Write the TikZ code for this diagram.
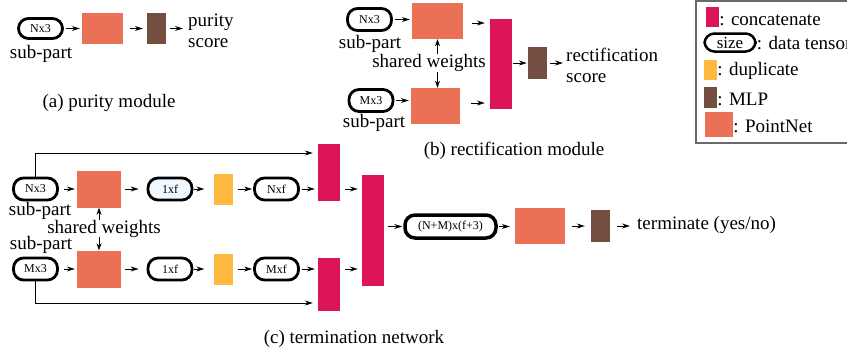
\PassOptionsToPackage{svgnames, dvipsnames, usenames}{xcolor}
\documentclass[tikz,border=0pt]{standalone}
\usepackage{xcolor}
\usepackage{fontspec}
\setmainfont{Liberation Serif}
\usepackage{tikz}
\usetikzlibrary{arrows.meta}
\definecolor{pointnetc}{RGB}{235,113,86}
\definecolor{concatc}{RGB}{220,20,90}
\definecolor{dupc}{RGB}{253,185,64}
\definecolor{mlpc}{RGB}{117,78,66}

\begin{document}
\begin{tikzpicture}[x=1pt, y=-1pt,
  font=\fontsize{19}{21}\selectfont,
  tensor/.style={draw, line width=2.8pt, rounded corners=10pt, inner sep=0pt,
    minimum width=44pt, minimum height=22pt, font=\fontsize{12}{14}\selectfont},
  pnet/.style={fill=pointnetc, inner sep=0pt, minimum width=44pt, minimum height=36pt},
  cat/.style={fill=concatc, inner sep=0pt, minimum width=22pt},
  dupl/.style={fill=dupc, inner sep=0pt, minimum width=19pt, minimum height=31pt},
  mlp/.style={fill=mlpc, inner sep=0pt, minimum width=19pt, minimum height=32pt},
  arr/.style={-{Stealth[length=8pt, width=5pt, fill=Navy]}, line width=0.8pt,
    shorten <=2pt, shorten >=2pt},
  dbl/.style={{Stealth[length=7pt, width=5pt]}-{Stealth[length=7pt, width=5pt]}, line width=0.8pt},
  lbl/.style={inner sep=0pt}]
\useasboundingbox (0,0) rectangle (847,349);

%%%%% (a) purity module %%%%%
\node[tensor, minimum height=20pt] (pa) at (40.5,28.5) {Nx3};
\node[lbl] (pas) at (41,53.5) {sub-part};
\node[pnet, minimum width=41pt, minimum height=31pt] (pna) at (102.5,28.5) {};
\node[mlp, minimum height=31pt] (ma) at (156.5,28.5) {};
\node[lbl, anchor=west, align=left] (sa) at (188,31) {purity\\score};
\draw[arr] (pa) -- (pna);
\draw[arr, shorten <=7pt, shorten >=4pt] (pna) -- (ma);
\draw[arr, shorten <=4pt, shorten >=5pt] (ma) -- (sa.west |- ma);
\node (capa) at (109,102.5) {(a) purity module};

%%%%% (b) rectification module %%%%%
\node[tensor] (pb1) at (369.5,19.5) {Nx3};
\node[lbl] (pbs1) at (370,43.5) {sub-part};
\node[tensor] (pb2) at (371,100.5) {Mx3};
\node[lbl] (pbs2) at (374,122.5) {sub-part};
\node[pnet, minimum width=51pt] (pnb1) at (437.5,21) {};
\node[pnet, minimum width=49pt] (pnb2) at (435.5,106) {};
\node[cat, minimum height=90pt] (cb) at (501,64) {};
\node[mlp] (mb) at (537.5,63) {};
\node[lbl, anchor=west, align=left] (sb) at (566,65) {rectification\\score};
\draw[arr] (pb1.east) -- (pb1.east -| pnb1.west);
\draw[arr] (pb2.east) -- (pb2.east -| pnb2.west);
\draw[arr, shorten <=9pt, shorten >=5pt] ([yshift=-2pt]pnb1.east) -- ([yshift=-2pt]pnb1.east -| cb.west);
\draw[arr, shorten <=11pt, shorten >=5pt] ([yshift=3pt]pnb2.east) -- ([yshift=3pt]pnb2.east -| cb.west);
\draw[arr, shorten <=1pt, shorten >=1pt] (cb.east |- mb) -- (mb);
\draw[arr, shorten <=3pt, shorten >=3pt] (mb) -- (sb.west |- mb);
\draw[dbl] (pnb1.south) -- (pnb1.south |- pnb2.north);
\node[lbl, fill=white] (swb) at (429,63) {shared weights};
\node (capb) at (514,151) {(b) rectification module};

%%%%% legend %%%%%
\draw[draw=DimGray, line width=1.8pt] (696,1) rectangle (880,143);
\node[cat, minimum width=13pt, minimum height=20pt] (lc) at (712.5,17) {};
\node[lbl, anchor=base west] (lct) at ([yshift=2pt]lc.south east) {: concatenate};
\node[tensor, line width=2.5pt, minimum width=51pt, minimum height=18pt,
  font=\fontsize{17}{19}\selectfont] (lt) at (730,42.5) {size};
\node[lbl, anchor=base west] (ltt) at ([yshift=3pt]lt.south east) {: data tensor};
\node[dupl, minimum width=13pt, minimum height=20pt] (ld) at (710.5,70) {};
\node[lbl, anchor=base west] (ldt) at ([yshift=5pt]ld.south east) {: duplicate};
\node[mlp, minimum width=13pt, minimum height=21pt] (lm) at (710.5,97.5) {};
\node[lbl, anchor=base west] (lmt) at ([yshift=3pt]lm.south east) {: MLP};
\node[pnet, minimum width=28pt, minimum height=25pt] (lp) at (719,124.5) {};
\node[lbl, anchor=base west] (lpt) at ([yshift=5pt]lp.south east) {: PointNet};

%%%%% (c) termination network %%%%%
\node[cat, minimum height=57pt] (ct1) at (329,172.5) {};
\node[cat, minimum height=53pt] (ct2) at (329,284.5) {};
\node[cat, minimum height=111pt] (cbig) at (373,230.5) {};
\foreach \r/\y/\t/\f/\c in {1/189/Nx3/Nxf/AliceBlue, 2/269/Mx3/Mxf/white}{
\node[tensor] (in\r) at (35.5,\y) {\t};
\node[pnet, minimum height=37pt] (pc\r) at (99,\y) {};
\node[tensor, fill=\c] (fe\r) at (170,\y) {1xf};
\node[dupl] (du\r) at (223,\y) {};
\node[tensor] (rp\r) at (276.5,\y) {\f};
\draw[arr, shorten <=5pt, shorten >=2pt] (in\r) -- (pc\r);
\draw[arr, shorten <=4pt, shorten >=8pt] (pc\r) -- (fe\r);
\draw[arr, shorten <=1pt, shorten >=9pt] (fe\r) -- (du\r);
\draw[arr, shorten <=5pt, shorten >=1pt] (du\r) -- (rp\r);
\draw[arr, shorten <=2pt, shorten >=3pt] (rp\r) -- (rp\r -| ct\r.west);
\draw[arr, shorten <=5pt, shorten >=4pt] (rp\r -| ct\r.east) -- (rp\r -| cbig.west);
}
\draw[arr, shorten <=0pt, shorten >=5pt] (in1.north) |- ([yshift=19.5pt]ct1.west);
\draw[arr, shorten <=0pt, shorten >=5pt] (in2.south) |- ([yshift=-18.5pt]ct2.west);
\node[lbl] (pcs1) at (40,211) {sub-part};
\node[lbl] (pcs2) at (41,245) {sub-part};
\draw[dbl] (pc1.south) -- (pc2.north);
\node[lbl, fill=white] (swc) at (104,228.5) {shared weights};

\node[tensor, line width=3.5pt, minimum width=91pt, minimum height=23pt] (nm) at (450.5,226.5) {(N+M)x(f+3)};
\node[pnet, minimum width=50pt] (pcf) at (540,226) {};
\node[mlp] (mc) at (600.5,226) {};
\node[lbl, anchor=west] (tc) at (637,225) {terminate (yes/no)};
\draw[arr, shorten <=4pt, shorten >=1pt] (cbig.east |- nm) -- (nm);
\draw[arr, shorten <=1pt, shorten >=5pt] (nm) -- (pcf.west |- nm);
\draw[arr, shorten <=7pt, shorten >=6pt] (pcf) -- (mc);
\draw[arr, shorten <=7pt, shorten >=7pt] (mc) -- (tc.west |- mc);
\node (capc) at (354,339) {(c) termination network};

\end{tikzpicture}
\end{document}
